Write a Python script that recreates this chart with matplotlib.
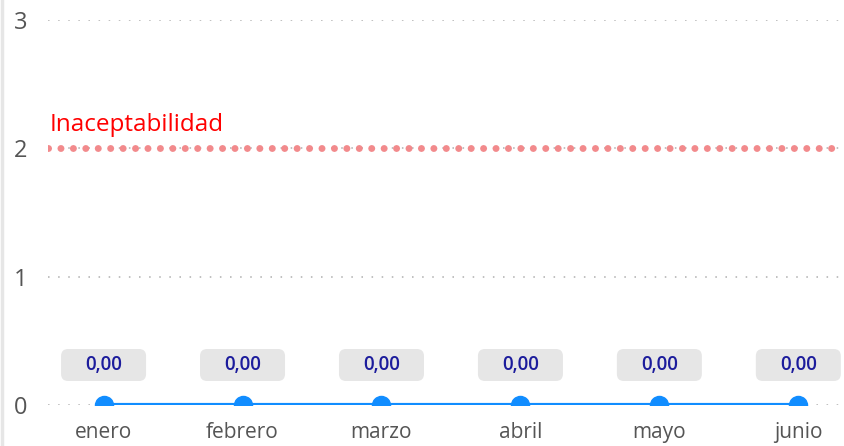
import matplotlib
matplotlib.use('Agg')
import matplotlib.pyplot as plt
from matplotlib.patches import FancyBboxPatch
from matplotlib.lines import Line2D
from matplotlib.transforms import ScaledTranslation

months = ['enero', 'febrero', 'marzo', 'abril', 'mayo', 'junio']
values = [0.0, 0.0, 0.0, 0.0, 0.0, 0.0]
threshold = 2
threshold_label = 'Inaceptabilidad'
yticks = [0, 1, 2, 3]

plt.rcParams['font.family'] = ['Open Sans', 'DejaVu Sans']

fig = plt.figure(figsize=(8.45, 4.46), dpi=100)
ax = fig.add_axes([48 / 845, 41 / 446, 792 / 845, 385 / 446])

x = list(range(len(months)))

# grid
for t in yticks:
    ax.axhline(t, color='#c0c0c0', lw=1.4, ls=(0, (0.8, 4.4)), zorder=0)

# threshold line
ax.axhline(threshold, color='#f28a8c', lw=5, ls=(0, (0.01, 1.78)),
           dash_capstyle='round', zorder=1)
ax.annotate(threshold_label, xy=(-0.4, threshold), xytext=(1, 8),
            textcoords='offset points', color='#ff0000', fontsize=17.5,
            ha='left', va='bottom')

# series
ax.plot(x, values, color='#118dff', lw=3, marker='o', markersize=13,
        zorder=3)

# data labels
for i, v in enumerate(values):
    tr = fig.dpi_scale_trans + ScaledTranslation(i, v, ax.transData)
    box = FancyBboxPatch((-0.425, 0.24), 0.85, 0.32,
                         boxstyle='round,pad=0,rounding_size=0.07',
                         facecolor='#e6e6e6', edgecolor='none',
                         transform=tr, clip_on=False, zorder=4)
    ax.add_patch(box)
    ax.annotate(f'{v:.2f}'.replace('.', ','), xy=(i, v), xytext=(0, 28.5),
                textcoords='offset points', ha='center', va='center',
                color='#1c1c9c', fontsize=13.5, fontweight='semibold',
                zorder=5)

ax.set_xlim(-0.4, 5.3)
ax.set_ylim(0, 3)
ax.set_xticks(x)
ax.set_xticklabels(months)
ax.set_yticks(yticks)
ax.tick_params(axis='x', length=0, pad=12, labelsize=15, labelcolor='#555555')
ax.tick_params(axis='y', length=0, pad=15, labelsize=17, labelcolor='#555555')
for s in ax.spines.values():
    s.set_visible(False)

fig.add_artist(Line2D([2 / 845, 2 / 845], [0, 1], color='#e6e6e6', lw=2.5,
                      transform=fig.transFigure))

fig.savefig('out.png', dpi=100, facecolor='white')
